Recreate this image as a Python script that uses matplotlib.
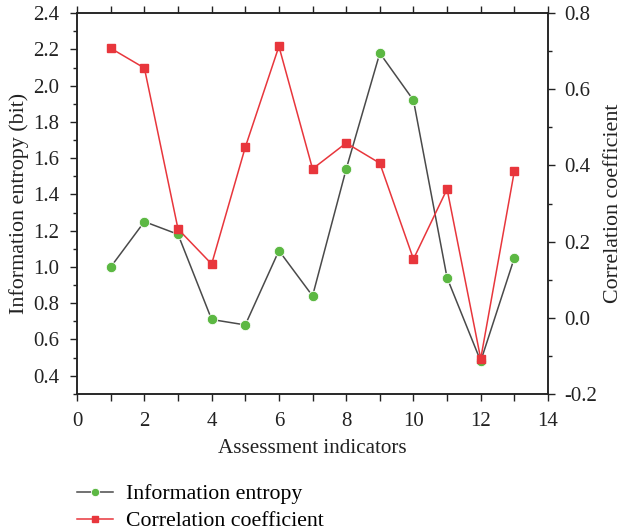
import matplotlib.pyplot as plt
from matplotlib.ticker import MultipleLocator

plt.rcParams['font.family'] = ['Liberation Serif', 'DejaVu Serif']

indicators = [1, 2, 3, 4, 5, 6, 7, 8, 9, 10, 11, 12, 13]
entropy = [1.00, 1.25, 1.18, 0.71, 0.68, 1.09, 0.84, 1.54, 2.18, 1.92, 0.94, 0.48, 1.05]
correlation = [0.708, 0.656, 0.233, 0.141, 0.448, 0.713, 0.391, 0.459, 0.406, 0.154, 0.338, -0.108, 0.385]

tick_size = 15
green = "#5cb843"
red = "#e8363c"
dark = "#222222"

fig = plt.figure(figsize=(6.22, 5.30), dpi=100)
ax = fig.add_axes([0.124, 0.257, 0.757, 0.718])
ax2 = ax.twinx()

l1, = ax.plot(indicators, entropy, color="#4a4a4a", lw=1.1, marker="o",
              markersize=7.5, markerfacecolor=green, markeredgecolor="white",
              markeredgewidth=0.6, label="Information entropy")
l2, = ax2.plot(indicators, correlation, color=red, lw=1.1, marker="s",
               markersize=6, markerfacecolor=red, markeredgecolor=red,
               label="Correlation coefficient")

ax.xaxis.set_major_locator(MultipleLocator(2))
ax.xaxis.set_minor_locator(MultipleLocator(1))
ax.set_yticks([0.4 + 0.2 * i for i in range(11)])
ax.yaxis.set_minor_locator(MultipleLocator(0.1))
ax2.yaxis.set_major_locator(MultipleLocator(0.2))
ax2.yaxis.set_minor_locator(MultipleLocator(0.1))
ax.set_xlim(0, 14)
ax.set_ylim(0.3, 2.4)
ax2.set_ylim(-0.2, 0.8)

ax.tick_params(axis="x", which="both", direction="out", length=5, width=1,
               top=True, pad=8, labelsize=tick_size, colors=dark)
ax.tick_params(axis="y", which="major", direction="out", length=5, width=1,
               pad=8, labelsize=tick_size, colors=dark)
ax.tick_params(axis="y", which="minor", direction="out", length=3, width=1, colors=dark)
ax2.tick_params(axis="y", which="major", direction="out", length=5, width=1,
                pad=7, labelsize=tick_size, colors=dark)
ax2.tick_params(axis="y", which="minor", direction="out", length=3, width=1, colors=dark)

for a in (ax, ax2):
    for s in a.spines.values():
        s.set_linewidth(1.1)
        s.set_color(dark)

ax.yaxis.set_major_formatter(plt.FormatStrFormatter("%.1f"))
ax2.yaxis.set_major_formatter(plt.FormatStrFormatter("%.1f"))

ax.set_xlabel("Assessment indicators", fontsize=15.2, color=dark, labelpad=6)
ax.set_ylabel("Information entropy (bit)", fontsize=15.8, color=dark, labelpad=3)
ax2.set_ylabel("Correlation coefficient", fontsize=15.8, color=dark, labelpad=5)

fig.legend(handles=[l1, l2], loc="upper left", bbox_to_anchor=(0.11, 0.103),
           frameon=False, fontsize=15.7, handlelength=1.65,
           handletextpad=0.6, labelspacing=0.3, borderaxespad=0, markerscale=0.8)

plt.savefig("out.png", dpi=100)
